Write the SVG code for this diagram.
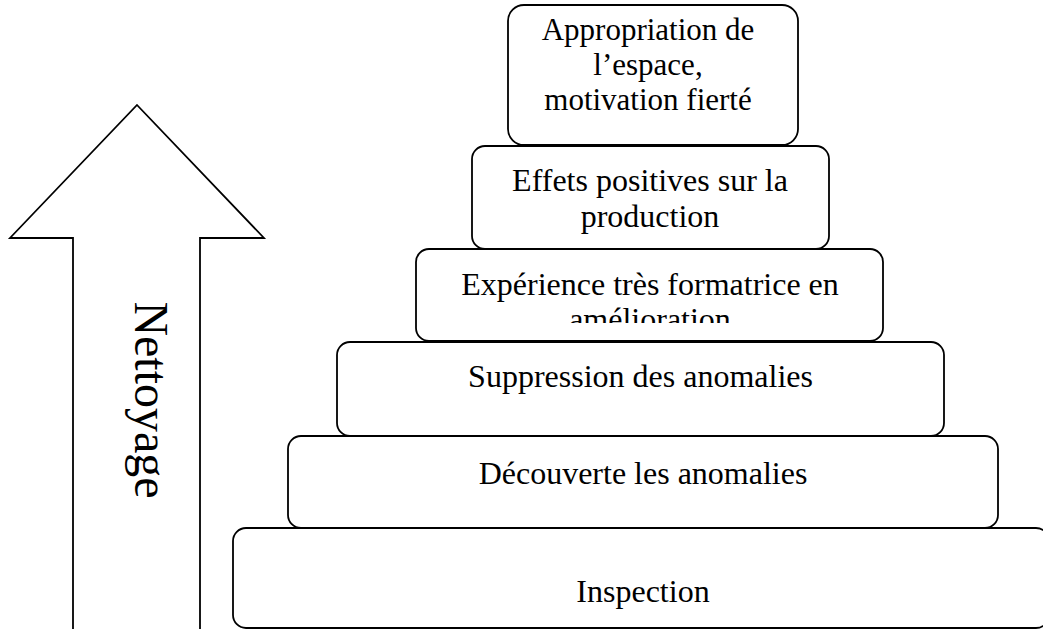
<svg xmlns="http://www.w3.org/2000/svg" width="1043" height="629" viewBox="0 0 1043 629">
  <style>
    .box { fill: #ffffff; stroke: #000000; stroke-width: 1.8; }
    .arrow { fill: #ffffff; stroke: #000000; stroke-width: 1.8; stroke-linejoin: miter; }
    .lbl { font-family: "Liberation Serif", "Times New Roman", serif; font-size: 32px; fill: #000000; text-anchor: middle; }
    .lbl-top { font-size: 31px; }
    .lbl-big { font-size: 48px; }
  </style>
  <defs>
    <clipPath id="clip-experience">
      <rect x="416" y="249" width="468" height="74"/>
    </clipPath>
  </defs>
  <rect width="1043" height="629" fill="#ffffff"/>

  <!-- Upward block arrow on the left -->
  <g id="arrow-nettoyage">
    <polygon class="arrow" points="137,105 264,238 200,238 200,632 73,632 73,238 10,238"/>
    <text class="lbl lbl-big" transform="translate(135,400) rotate(90)">Nettoyage</text>
  </g>

  <!-- Pyramid steps, bottom to top -->
  <g id="step-inspection">
    <rect class="box" x="233" y="528" width="816" height="100" rx="13" ry="13"/>
    <text class="lbl" x="643" y="602">Inspection</text>
  </g>

  <g id="step-decouverte">
    <rect class="box" x="288" y="436" width="710" height="92" rx="13" ry="13"/>
    <text class="lbl" x="643" y="484">Découverte les anomalies</text>
  </g>

  <g id="step-suppression">
    <rect class="box" x="337" y="342" width="607" height="94" rx="13" ry="13"/>
    <text class="lbl" x="640.5" y="387">Suppression des anomalies</text>
  </g>

  <g id="step-experience">
    <rect class="box" x="416" y="249" width="467" height="92" rx="13" ry="13"/>
    <!-- second line is cut off by the text frame -->
    <g clip-path="url(#clip-experience)">
      <text class="lbl" x="650" y="295">Expérience très formatrice en</text>
      <text class="lbl" x="650" y="330">amélioration</text>
    </g>
  </g>

  <g id="step-effets">
    <rect class="box" x="472" y="146" width="357" height="103" rx="13" ry="13"/>
    <text class="lbl" x="650" y="191">Effets positives sur la</text>
    <text class="lbl" x="650" y="227">production</text>
  </g>

  <g id="step-appropriation">
    <rect class="box" x="508" y="5" width="290" height="140" rx="16" ry="16"/>
    <text class="lbl lbl-top" x="648" y="40">Appropriation de</text>
    <text class="lbl lbl-top" x="648" y="75">l’espace,</text>
    <text class="lbl lbl-top" x="648" y="110">motivation fierté</text>
  </g>

  <!-- no connectors in this figure -->
  <g id="connectors"/>
</svg>
